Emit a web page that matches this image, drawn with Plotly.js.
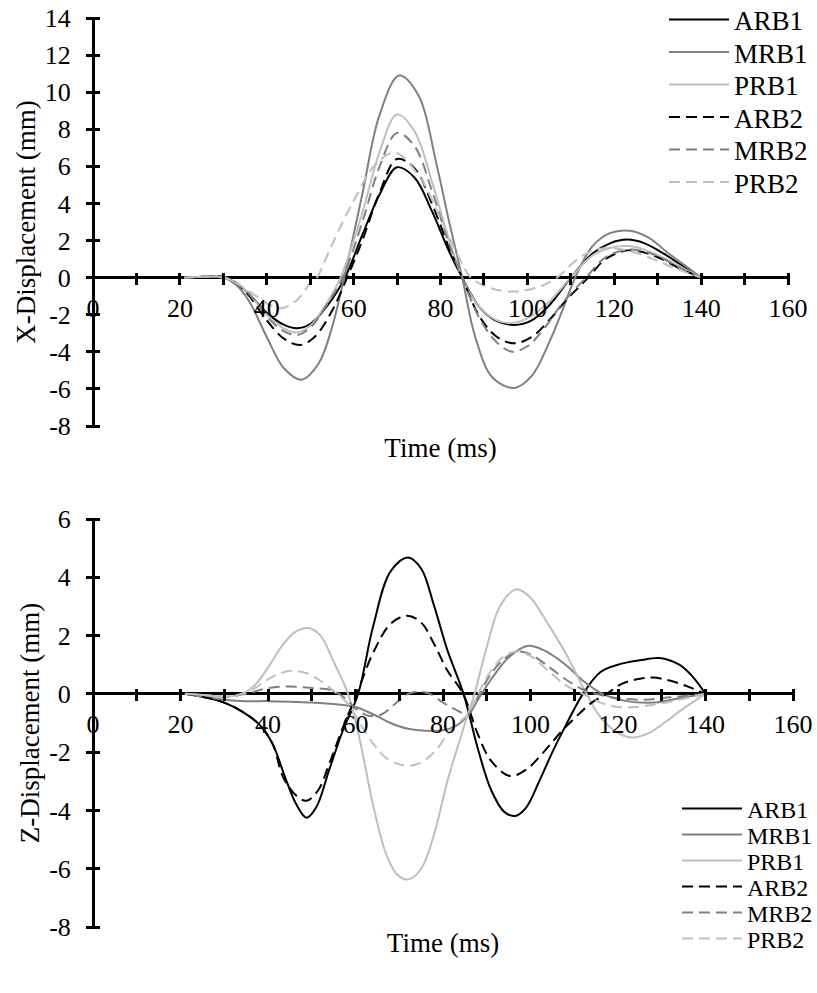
<!DOCTYPE html>
<html>
<head>
<meta charset="utf-8">
<script src="https://cdn.plot.ly/plotly-3.0.1.min.js"></script>
<style>html,body{margin:0;padding:0;background:#fff;}#chart{width:817px;height:993px;}</style>
</head>
<body>
<div id="chart"></div>
<script>
// ---------- Data: X-Displacement (top panel) ----------
const seriesNames = ['ARB1', 'MRB1', 'PRB1', 'ARB2', 'MRB2', 'PRB2'];

const xARB1_t = [21, 26, 30, 33, 36, 40, 44, 47, 50, 54, 58, 62, 66, 70, 74, 78, 82, 85, 89, 93, 97, 101, 105, 110, 115, 119, 123, 127, 131, 135, 140];
const xARB1_v = [0, 0.05, 0.05, -0.3, -0.9, -1.9, -2.55, -2.73, -2.5, -1.5, 0, 2.3, 4.5, 5.95, 5.4, 3.6, 1.4, 0, -1.6, -2.35, -2.55, -2.3, -1.5, 0, 1.3, 1.85, 2.05, 1.85, 1.35, 0.75, 0];

const xMRB1_t = [21, 26, 30, 33, 36, 40, 44, 48, 52, 55, 58, 62, 66, 70.5, 75, 79, 82, 85, 88, 92, 97, 101, 105, 108, 111, 115, 119, 123.5, 128, 132, 136, 140];
const xMRB1_v = [0, 0.05, 0, -0.4, -1.3, -3.2, -4.9, -5.5, -4.6, -2.7, 0.2, 4.5, 8.8, 10.9, 9.8, 6.2, 3.0, 0, -3.2, -5.4, -5.95, -5.3, -3.5, -1.8, 0, 1.7, 2.4, 2.53, 2.15, 1.4, 0.7, 0];

const xPRB1_t = [21, 26, 30, 33, 36, 40, 44, 47, 50, 54, 57, 62, 66, 70, 74, 78, 82, 85, 89, 93, 96, 100, 105, 110, 115, 119, 123, 127, 131, 135, 140];
const xPRB1_v = [0, 0.05, 0.05, -0.3, -0.9, -2.0, -2.75, -2.95, -2.6, -1.3, 0, 3.5, 6.8, 8.8, 7.9, 5.2, 2.0, 0, -1.6, -2.3, -2.45, -2.2, -1.3, 0, 1.2, 1.6, 1.7, 1.5, 1.1, 0.6, 0];

const xARB2_t = [21, 26, 30, 33, 36, 40, 44, 47.7, 51, 55, 58.5, 62, 66, 70, 74, 78, 82, 85, 89, 93, 97, 101, 105, 109, 114, 118, 123, 127, 131, 135, 140];
const xARB2_v = [0, 0.05, 0.05, -0.3, -1.0, -2.3, -3.3, -3.63, -3.2, -1.8, 0, 2.0, 4.6, 6.4, 5.9, 4.0, 1.6, 0, -2.1, -3.2, -3.54, -3.2, -2.3, -1.2, 0, 1.0, 1.47, 1.35, 1.0, 0.5, 0];

const xMRB2_t = [21, 26, 30, 33, 36, 40, 44, 47, 50, 54, 57.5, 62, 66, 70, 74, 78, 82, 85, 89, 93, 96.5, 100, 104, 108, 113.5, 118, 123, 127, 131, 135, 140];
const xMRB2_v = [0, 0.05, 0.05, -0.3, -0.9, -2.1, -2.9, -3.09, -2.7, -1.4, 0, 3.0, 6.0, 7.8, 7.1, 4.7, 1.8, 0, -2.2, -3.5, -3.99, -3.7, -2.7, -1.4, 0, 1.1, 1.5, 1.4, 1.05, 0.55, 0];

const xPRB2_t = [21, 26, 30, 33, 37, 41, 43.5, 47, 50, 51.5, 54.5, 57.5, 60.6, 65, 69.5, 75, 80, 84, 87, 92, 97, 102, 106.8, 111, 115, 119, 124, 129, 134, 140];
const xPRB2_v = [0, 0.05, 0, -0.3, -0.9, -1.5, -1.65, -1.2, -0.3, 0, 1.5, 3.0, 4.4, 6.1, 6.74, 5.5, 3.2, 1.2, 0, -0.6, -0.75, -0.55, 0, 0.9, 1.45, 1.6, 1.4, 1.0, 0.5, 0];

// ---------- Data: Z-Displacement (bottom panel) ----------
const zARB1_t = [21, 25, 30, 34, 38, 41, 44, 46.5, 48.8, 51, 54, 57, 60.6, 64, 68, 72, 75, 78, 81, 84.7, 88, 91, 94, 96.5, 99, 102, 105, 108, 112, 116, 120, 125, 129.5, 134, 137, 140];
const zARB1_v = [0, -0.1, -0.3, -0.6, -1.05, -1.7, -2.9, -3.8, -4.25, -3.9, -2.6, -1.3, 0, 2.3, 4.2, 4.68, 4.3, 3.0, 1.5, 0, -1.9, -3.3, -4.05, -4.19, -3.9, -3.0, -2.0, -1.1, 0, 0.75, 1.0, 1.15, 1.23, 1.0, 0.6, 0];

const zMRB1_t = [21, 25, 30, 35, 40, 45, 50, 55, 60, 64, 68, 72, 76, 80, 83, 85.7, 88, 91, 95, 99.5, 103, 108, 112, 116.5, 122, 128, 134, 140];
const zMRB1_v = [0, -0.1, -0.2, -0.25, -0.25, -0.27, -0.3, -0.35, -0.45, -0.7, -1.0, -1.2, -1.27, -1.25, -1.1, -0.75, -0.2, 0.5, 1.25, 1.65, 1.5, 1.0, 0.45, 0, -0.25, -0.3, -0.15, 0];

const zPRB1_t = [21, 26, 30, 34, 37, 40, 43, 46, 49.2, 52, 55, 58.3, 61, 64, 67, 69.5, 72, 75, 78, 81, 84, 85.7, 87.2, 90, 93, 96.8, 100, 104, 108, 112.8, 116, 120, 123.5, 127, 131, 135, 140];
const zPRB1_v = [0, -0.05, -0.1, 0, 0.3, 0.9, 1.6, 2.1, 2.26, 2.0, 1.1, 0, -1.6, -3.8, -5.5, -6.2, -6.37, -6.0, -4.8, -3.0, -1.5, -0.7, 0, 1.6, 3.0, 3.59, 3.3, 2.4, 1.4, 0, -0.8, -1.35, -1.5, -1.35, -0.95, -0.5, 0];

const zARB2_t = [21, 25, 30, 34, 38, 41, 43.5, 46.5, 48.8, 51.5, 54, 57, 60.3, 64, 68, 71.7, 75, 78, 81, 84.6, 88, 91, 95.3, 99, 103, 107, 111, 114, 117.4, 121, 125, 128, 132, 136, 140];
const zARB2_v = [0, -0.1, -0.3, -0.6, -1.05, -1.7, -2.87, -3.5, -3.67, -3.3, -2.4, -1.2, 0, 1.4, 2.4, 2.68, 2.45, 1.7, 0.8, 0, -1.4, -2.3, -2.82, -2.6, -2.0, -1.3, -0.7, -0.3, 0, 0.35, 0.52, 0.56, 0.45, 0.25, 0];

const zMRB2_t = [21, 26, 30, 35, 40, 45, 50, 55, 58, 60, 63, 66, 69, 72, 74.5, 77, 80, 83, 85.7, 88, 91, 94, 97, 100, 104, 108, 112, 115, 120, 126, 132, 140];
const zMRB2_v = [0, -0.05, -0.1, 0, 0.2, 0.25, 0.2, 0.1, -0.2, -0.5, -0.75, -0.7, -0.35, 0, 0.08, 0, -0.3, -0.55, -0.7, -0.1, 0.7, 1.2, 1.45, 1.35, 0.95, 0.5, 0.15, 0, -0.15, -0.2, -0.12, 0];

const zPRB2_t = [21, 26, 30, 34, 37, 40, 43, 45.8, 49, 52, 55, 58, 61, 64, 67, 70, 72.4, 75, 78, 81, 83.5, 85.7, 88, 91, 94, 97, 100, 104, 108, 112, 116, 120, 124, 129, 134, 140];
const zPRB2_v = [0, -0.05, -0.1, 0, 0.2, 0.5, 0.72, 0.79, 0.7, 0.45, 0.1, -0.3, -1.0, -1.7, -2.2, -2.42, -2.47, -2.35, -2.0, -1.4, -1.0, -0.7, 0.0, 0.8, 1.3, 1.45, 1.3, 0.8, 0.3, 0, -0.3, -0.45, -0.45, -0.35, -0.2, 0];

// ---------- Axis ticks ----------
const xRange = [0, 160];
const xTickVals = [0, 10, 20, 30, 40, 50, 60, 70, 80, 90, 100, 110, 120, 130, 140, 150, 160];
const xTickText = ['0', '', '20', '', '40', '', '60', '', '80', '', '100', '', '120', '', '140', '', '160'];
const yRangeTop = [-8, 14];
const yTickTop = [-8, -6, -4, -2, 0, 2, 4, 6, 8, 10, 12, 14];
const yTickTopText = ['-8', '-6', '-4', '-2', '0', '2', '4', '6', '8', '10', '12', '14'];
const yRangeBot = [-8, 6];
const yTickBot = [-8, -6, -4, -2, 0, 2, 4, 6];
const yTickBotText = ['-8', '-6', '-4', '-2', '0', '2', '4', '6'];

// ---------- Styles ----------
const FONT = '"Liberation Serif", "Times New Roman", serif';
const DASH = '11px,6px';
const styles = {
  ARB1: {color: '#000000', dash: 'solid'},
  MRB1: {color: '#808080', dash: 'solid'},
  PRB1: {color: '#bfbfbf', dash: 'solid'},
  ARB2: {color: '#000000', dash: DASH},
  MRB2: {color: '#808080', dash: DASH},
  PRB2: {color: '#bfbfbf', dash: DASH}
};

const topData = {ARB1: [xARB1_t, xARB1_v], MRB1: [xMRB1_t, xMRB1_v], PRB1: [xPRB1_t, xPRB1_v],
                 ARB2: [xARB2_t, xARB2_v], MRB2: [xMRB2_t, xMRB2_v], PRB2: [xPRB2_t, xPRB2_v]};
const botData = {ARB1: [zARB1_t, zARB1_v], MRB1: [zMRB1_t, zMRB1_v], PRB1: [zPRB1_t, zPRB1_v],
                 ARB2: [zARB2_t, zARB2_v], MRB2: [zMRB2_t, zMRB2_v], PRB2: [zPRB2_t, zPRB2_v]};

const W = 817, H = 993;
const traces = [];
const legends = {};
// legend placement (px from top for each entry centre)
const topLegTop = 20, topLegStep = 32.5, topLegX = 664;
const botLegTop = 809, botLegStep = 26, botLegX = 677;

seriesNames.forEach((n, i) => {
  const id = i === 0 ? 'legend' : 'legend' + (i + 1);
  traces.push({type: 'scatter', mode: 'lines', name: n, x: topData[n][0], y: topData[n][1],
    xaxis: 'x', yaxis: 'y', legend: id,
    line: {color: styles[n].color, dash: styles[n].dash, width: 2, shape: 'spline', smoothing: 1}});
  legends[id] = {
    x: topLegX / W, xanchor: 'left', y: 1 - (topLegTop + i * topLegStep) / H, yanchor: 'middle',
    font: {family: FONT, size: 27, color: '#000'}, itemwidth: 60, bgcolor: 'rgba(0,0,0,0)', borderwidth: 0};
});
seriesNames.forEach((n, i) => {
  const id = 'legend' + (i + 7);
  traces.push({type: 'scatter', mode: 'lines', name: n, x: botData[n][0], y: botData[n][1],
    xaxis: 'x2', yaxis: 'y2', legend: id,
    line: {color: styles[n].color, dash: styles[n].dash, width: 2, shape: 'spline', smoothing: 1}});
  legends[id] = {
    x: botLegX / W, xanchor: 'left', y: 1 - (botLegTop + i * botLegStep) / H, yanchor: 'middle',
    font: {family: FONT, size: 24, color: '#000'}, itemwidth: 60, bgcolor: 'rgba(0,0,0,0)', borderwidth: 0};
});

const topX = [93 / W, 788 / W];
const botX = [93 / W, 793 / W];
const topY = [1 - 426 / H, 1 - 18 / H];
const botY = [1 - 927 / H, 1 - 519 / H];
const zeroPos = (dom, r) => dom[0] + (dom[1] - dom[0]) * (0 - r[0]) / (r[1] - r[0]);

// Axis lines are the zero lines (x=0 and y=0); the tick-carrying axes are shifted by half a tick
// so that their ticks cross the lines like the original chart.
const XT = 6, YT = 7;           // half tick lengths (px)
const tickFont = {family: FONT, size: 26, color: '#000'};
const titleFont = {family: FONT, size: 27, color: '#000'};
function xAxis(dom, yDom, yRange, standoff) {
  return {domain: dom, range: xRange, anchor: 'free', position: zeroPos(yDom, yRange) + XT / H,
    showline: false, zeroline: true, zerolinewidth: 3, zerolinecolor: '#000',
    ticks: 'outside', ticklen: 2 * XT, tickwidth: 3, tickcolor: '#000',
    tickmode: 'array', tickvals: xTickVals, ticktext: xTickText,
    showgrid: false, tickfont: tickFont, ticklabelstandoff: 1,
    title: {text: 'Time (ms)', font: titleFont, standoff: standoff}};
}
function yAxis(dom, xDom, range, vals, text, title) {
  return {domain: dom, range: range, anchor: 'free', position: xDom[0] + YT / W,
    showline: false, zeroline: true, zerolinewidth: 3, zerolinecolor: '#000',
    ticks: 'outside', ticklen: 2 * YT, tickwidth: 3, tickcolor: '#000',
    tickmode: 'array', tickvals: vals, ticktext: text,
    showgrid: false, tickfont: tickFont, ticklabelstandoff: 10,
    title: {text: title, font: titleFont, standoff: 0}};
}

const layout = Object.assign({
  width: W, height: H,
  margin: {l: 0, r: 0, t: 0, b: 0, autoexpand: false},
  paper_bgcolor: '#fff', plot_bgcolor: 'rgba(0,0,0,0)',
  font: {family: FONT, color: '#000'},
  showlegend: true,
  xaxis: xAxis(topX, topY, yRangeTop, 116),
  yaxis: yAxis(topY, topX, yRangeTop, yTickTop, yTickTopText, 'X-Displacement (mm)'),
  xaxis2: xAxis(botX, botY, yRangeBot, 195),
  yaxis2: yAxis(botY, botX, yRangeBot, yTickBot, yTickBotText, 'Z-Displacement (mm)')
}, legends);

Plotly.newPlot('chart', traces, layout, {staticPlot: true, displayModeBar: false});
</script>
</body>
</html>
